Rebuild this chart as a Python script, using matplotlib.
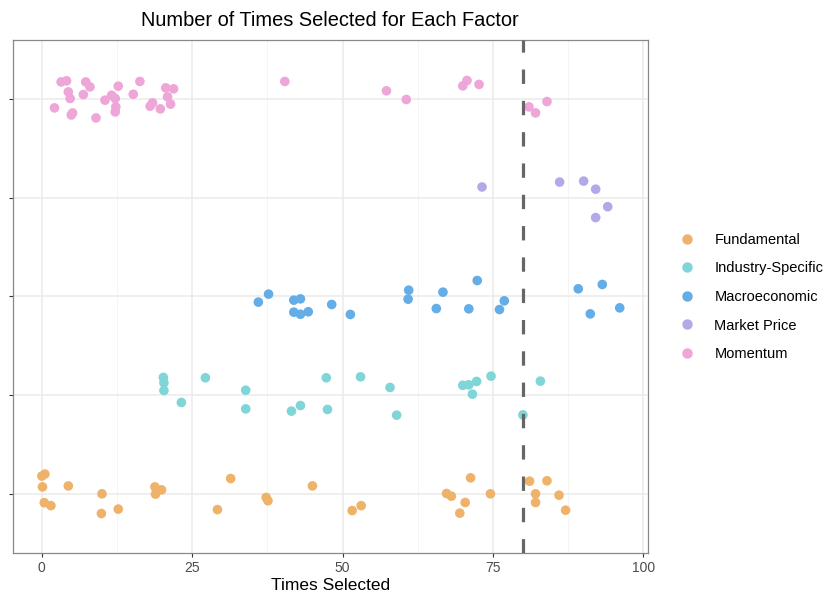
import matplotlib
matplotlib.use("Agg")
import matplotlib.pyplot as plt
from matplotlib.lines import Line2D
import numpy as np

plt.rcParams["font.family"] = ["Liberation Sans", "DejaVu Sans"]

factors = ["Fundamental", "Industry-Specific", "Macroeconomic", "Market Price", "Momentum"]
colors = ["#EFB26B", "#80D5D7", "#64ADE6", "#B4A9E8", "#EEA5D7"]
threshold = 80

# times selected per variable, with the vertical jitter used in the strip
fundamental_x = [0.0, 0.5, 0.1, 0.4, 1.5, 4.4, 10.0, 9.9, 12.7, 18.8, 19.9, 18.9, 29.2, 31.4,
                 37.3, 37.6, 45.0, 51.6, 53.1, 67.3, 68.1, 69.5, 70.4, 71.3, 74.6, 81.1,
                 82.1, 82.1, 84.0, 86.0, 87.1]
fundamental_jit = [0.18, 0.2, 0.07, -0.09, -0.12, 0.08, 0.0, -0.2, -0.155, 0.07, 0.04, -0.003,
                   -0.16, 0.155, -0.037, -0.07, 0.08, -0.17, -0.12, 0.003, -0.024, -0.196,
                   -0.088, 0.162, 0.0, 0.128, 0.0, -0.088, 0.132, -0.014, -0.166]

industry_x = [20.2, 20.3, 20.3, 23.2, 27.2, 33.9, 33.9, 41.5, 43.0, 47.3, 47.5, 53.0, 57.9,
              59.0, 70.0, 71.0, 72.3, 71.6, 74.7, 82.9, 80.0]
industry_jit = [0.18, 0.125, 0.047, -0.074, 0.176, 0.05, -0.139, -0.162, -0.105, 0.176, -0.145,
                0.186, 0.078, -0.203, 0.1, 0.105, 0.139, 0.01, 0.193, 0.142, -0.2]

macro_x = [36.0, 37.7, 41.9, 43.0, 41.9, 43.0, 44.3, 48.2, 51.3, 61.0, 60.9, 65.6, 66.7,
           71.0, 72.4, 76.1, 76.9, 89.2, 91.2, 93.2, 96.1]
macro_jit = [-0.057, 0.024, -0.037, -0.024, -0.159, -0.18, -0.155, -0.081, -0.182, 0.064,
             -0.027, -0.122, 0.044, -0.125, 0.162, -0.132, -0.044, 0.078, -0.176, 0.122, -0.115]

market_x = [73.2, 86.1, 90.1, 92.1, 94.1, 92.1]
market_jit = [0.11, 0.16, 0.17, 0.088, -0.09, -0.2]

momentum_x = [3.2, 4.1, 4.4, 4.7, 2.1, 4.9, 5.1, 6.9, 7.3, 8.0, 9.0, 10.5, 11.6, 12.2, 12.3,
              12.2, 12.7, 15.2, 16.3, 18.0, 18.4, 19.7, 20.6, 20.9, 21.4, 21.9, 40.4, 57.3,
              60.6, 70.0, 70.7, 72.7, 81.0, 82.1, 84.0]
momentum_jit = [0.175, 0.186, 0.074, 0.007, -0.088, -0.16, -0.14, 0.047, 0.175, 0.125, -0.19,
                -0.01, 0.04, 0.007, -0.078, -0.129, 0.132, 0.05, 0.18, -0.071, -0.037, -0.098,
                0.115, 0.024, -0.05, 0.105, 0.18, 0.085, -0.003, 0.135, 0.19, 0.15, -0.078,
                -0.139, -0.024]

series = [
    (fundamental_x, fundamental_jit),
    (industry_x, industry_jit),
    (macro_x, macro_jit),
    (market_x, market_jit),
    (momentum_x, momentum_jit),
]

fig = plt.figure(figsize=(8.27, 5.94), dpi=100)
ax = fig.add_axes([13 / 827, 1 - 553 / 594, (648 - 13) / 827, (553 - 40) / 594])

for i, ((xs, jit), color) in enumerate(zip(series, colors)):
    ys = (i + 1) + np.asarray(jit)
    ax.scatter(xs, ys, s=48, color=color, edgecolors="none", zorder=3)

ax.axvline(threshold, color="#666666", lw=2.3, dashes=(4.5, 5.3), zorder=4)

ax.set_xlim(-4.8, 100.8)
ax.set_ylim(0.4, 5.6)
ax.set_xticks([0, 25, 50, 75, 100])
ax.set_xticks([12.5, 37.5, 62.5, 87.5], minor=True)
ax.set_yticks([1, 2, 3, 4, 5])
ax.set_yticklabels([])
ax.grid(True, which="major", color="#EBEBEB", lw=1.1, zorder=0)
ax.grid(True, which="minor", axis="x", color="#F2F2F2", lw=0.6, zorder=0)
ax.tick_params(axis="both", which="major", length=3, color="#333333", labelsize=10,
               labelcolor="#4D4D4D", pad=3)
ax.tick_params(axis="x", which="minor", length=0)
for spine in ax.spines.values():
    spine.set_color("#888888")
    spine.set_linewidth(0.9)

ax.set_xlabel("Times Selected", fontsize=12.5, labelpad=2)
fig.text(330 / 827, 1 - 20 / 594, "Number of Times Selected for Each Factor",
         fontsize=14.4, ha="center", va="center")

handles = [Line2D([], [], marker="o", ls="none", color=c, markersize=6.5) for c in colors]
fig.legend(handles, factors, loc="center left", bbox_to_anchor=(672 / 827, 1 - 297 / 594),
           frameon=False, fontsize=10.5, handletextpad=1.3, labelspacing=1.0,
           handlelength=1.2, borderaxespad=0)

fig.savefig("out.png", dpi=100)
